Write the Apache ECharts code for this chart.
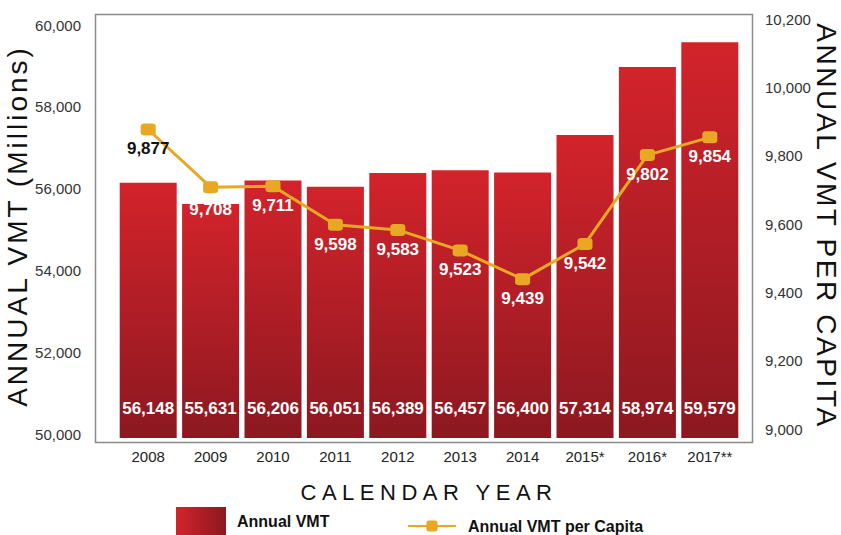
<!DOCTYPE html>
<html>
<head>
<meta charset="utf-8">
<script src="https://cdn.jsdelivr.net/npm/echarts@6/dist/echarts.min.js"></script>
<style>
  html, body { margin: 0; padding: 0; background: #fff; }
  #chartWrapper { width: 841px; height: 535px; }
</style>
</head>
<body>
<div id="chartWrapper"></div>
<script>
// data
let years = ['2008', '2009', '2010', '2011', '2012', '2013', '2014', '2015*', '2016*', '2017**'];
let annualVmt = [56148, 55631, 56206, 56051, 56389, 56457, 56400, 57314, 58974, 59579];
let vmtPerCapita = [9877, 9708, 9711, 9598, 9583, 9523, 9439, 9542, 9802, 9854];
let leftTicks = [50000, 52000, 54000, 56000, 58000, 60000];
let rightTicks = [9000, 9200, 9400, 9600, 9800, 10000, 10200];

let font = '"Liberation Sans", Arial, sans-serif';
let red = '#d3232b';
let darkRed = '#8c1820';
let gold = '#e8a823';

function initVmtChart() {
    let myChart = echarts.init(document.getElementById('chartWrapper'), null, {renderer: 'svg'});

    let barGradient = new echarts.graphic.LinearGradient(0, 0, 0, 1, [
        {offset: 0, color: red},
        {offset: 1, color: darkRed}
    ]);
    let legendGradient = new echarts.graphic.LinearGradient(0, 0, 1, 0, [
        {offset: 0, color: red},
        {offset: 1, color: darkRed}
    ]);

    let lineData = vmtPerCapita.map(function (v, i) {
        // first label sits on white, the rest on the bars
        let label = {color: i === 0 ? '#111' : '#fff'};
        if (i === 1) {
            label.distance = 8; // keep it off the bar edge
        }
        return {value: v, label: label};
    });

    let fmt = function (v) {
        return echarts.format.addCommas(v);
    };

    let option = {
        animation: false,
        textStyle: {fontFamily: font},
        grid: {
            left: 117,
            right: 100,
            top: 14,
            bottom: 97,
            outerBoundsMode: 'none'
        },
        // plot frame
        graphic: [{
            type: 'rect',
            shape: {x: 95.5, y: 14.5, width: 657, height: 428},
            style: {fill: 'none', stroke: '#8a8a8a', lineWidth: 1.5},
            z: -1,
            silent: true
        }],
        legend: [{
            data: [{name: 'Annual VMT', itemStyle: {color: legendGradient}}],
            left: 176,
            top: 507,
            padding: 0,
            icon: 'rect',
            itemWidth: 50,
            itemHeight: 28,
            textStyle: {fontFamily: font, fontSize: 16, fontWeight: 'bold', color: '#111', padding: [0, 0, 0, 6]}
        }, {
            data: ['Annual VMT per Capita'],
            left: 407,
            top: 518,
            padding: 0,
            itemWidth: 48,
            itemHeight: 14,
            textStyle: {fontFamily: font, fontSize: 16, fontWeight: 'bold', color: '#111', padding: [0, 0, 0, 7]}
        }],
        xAxis: {
            type: 'category',
            data: years,
            name: 'CALENDAR YEAR',
            nameLocation: 'middle',
            nameGap: 43,
            nameMoveOverlap: false,
            nameTextStyle: {fontFamily: font, fontSize: 22, color: '#111'},
            axisLine: {show: false},
            axisTick: {show: false},
            axisLabel: {fontFamily: font, fontSize: 15, color: '#222', margin: 11}
        },
        yAxis: [{
            type: 'value',
            min: 49915,
            max: 60270,
            name: 'ANNUAL VMT (Millions)',
            nameLocation: 'middle',
            nameRotate: 90,
            nameGap: 86,
            nameMoveOverlap: false,
            nameTextStyle: {fontFamily: font, fontSize: 28, color: '#111'},
            axisLine: {show: false},
            axisTick: {show: false},
            splitLine: {show: false},
            axisLabel: {
                customValues: leftTicks,
                formatter: fmt,
                fontFamily: font,
                fontSize: 15,
                color: '#333',
                margin: 36
            }
        }, {
            type: 'value',
            min: 8974,
            max: 10215,
            name: 'ANNUAL VMT PER CAPITA',
            nameLocation: 'middle',
            nameRotate: -90,
            nameGap: 71,
            nameMoveOverlap: false,
            nameTextStyle: {fontFamily: font, fontSize: 28, color: '#111'},
            axisLine: {show: false},
            axisTick: {show: false},
            splitLine: {show: false},
            axisLabel: {
                customValues: rightTicks,
                formatter: fmt,
                fontFamily: font,
                fontSize: 15,
                color: '#333',
                margin: 24
            }
        }],
        series: [{
            name: 'Annual VMT',
            type: 'bar',
            data: annualVmt,
            barWidth: 57,
            itemStyle: {color: barGradient},
            label: {
                show: true,
                position: 'insideBottom',
                distance: 21,
                formatter: function (p) { return fmt(p.value); },
                fontFamily: font,
                fontSize: 17,
                fontWeight: 'bold',
                color: '#fff'
            }
        }, {
            name: 'Annual VMT per Capita',
            type: 'line',
            yAxisIndex: 1,
            data: lineData,
            symbol: 'roundRect',
            symbolSize: [15, 12],
            lineStyle: {color: gold, width: 3},
            itemStyle: {color: gold},
            z: 5,
            label: {
                show: true,
                position: 'bottom',
                distance: 5,
                formatter: function (p) { return fmt(p.value); },
                fontFamily: font,
                fontSize: 17,
                fontWeight: 'bold'
            }
        }]
    };

    myChart.setOption(option);

    // no letter-spacing option in echarts, so put it on the svg text
    let spacing = {
        'CALENDAR YEAR': '5.5px',
        'ANNUAL VMT (Millions)': '3px',
        'ANNUAL VMT PER CAPITA': '2.6px'
    };
    let spaceTitles = function () {
        document.querySelectorAll('#chartWrapper text').forEach(function (t) {
            let s = t.textContent;
            if (spacing[s]) {
                t.setAttribute('letter-spacing', spacing[s]);
            }
        });
    };
    spaceTitles();
    myChart.on('finished', spaceTitles);
}

initVmtChart();
</script>
</body>
</html>
